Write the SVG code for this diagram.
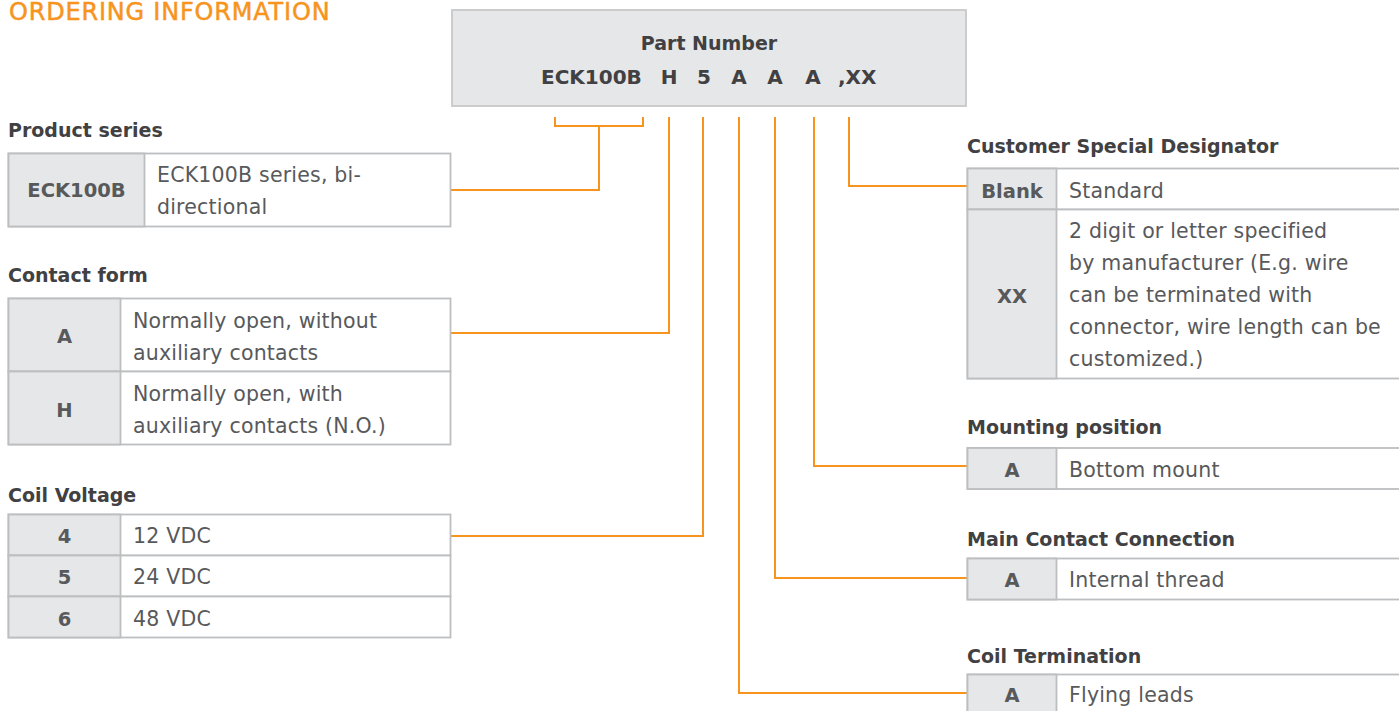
<svg xmlns="http://www.w3.org/2000/svg" width="1399" height="711" viewBox="0 0 1399 711">
<style>
.title{font-family:"DejaVu Sans",sans-serif;font-size:24px;fill:#F7941D;stroke:#F7941D;stroke-width:0.5;letter-spacing:0.8px}
.head{font-family:"DejaVu Sans",sans-serif;font-size:19px;font-weight:bold;fill:#414042}
.key{font-family:"DejaVu Sans",sans-serif;font-size:19.5px;font-weight:bold;fill:#58595B;text-anchor:middle}
.pn{font-family:"DejaVu Sans",sans-serif;font-size:19px;font-weight:bold;fill:#414042}
.pn2{font-family:"DejaVu Sans",sans-serif;font-size:20px;font-weight:bold;fill:#414042}
.txt{font-family:"DejaVu Sans",sans-serif;font-size:20.5px;fill:#58595B;letter-spacing:0.2px}
.kc{fill:#E6E7E8;stroke:#BCBEC0;stroke-width:1.8}
.dc{fill:#FFFFFF;stroke:#BCBEC0;stroke-width:1.8}
.conn{fill:none;stroke:#F7941D;stroke-width:2}
</style>
<rect width="1399" height="711" fill="#FFFFFF"/>
<text class="title" x="9" y="20">ORDERING INFORMATION</text>

<g id="part-number">
<rect x="452" y="10" width="514" height="96" fill="#E6E7E8" stroke="#C8C8C8" stroke-width="1.8"/>
<text class="pn" x="709" y="50" text-anchor="middle">Part Number</text>
<text class="pn2" x="541" y="84">ECK100B</text>
<text class="pn2" x="669" y="84" text-anchor="middle">H</text>
<text class="pn2" x="704" y="84" text-anchor="middle">5</text>
<text class="pn2" x="739" y="84" text-anchor="middle">A</text>
<text class="pn2" x="775" y="84" text-anchor="middle">A</text>
<text class="pn2" x="813" y="84" text-anchor="middle">A</text>
<text class="pn2" x="838" y="84">,XX</text>
</g>

<g id="connectors">
<polyline class="conn" points="555,117 555,126 643,126 643,117"/>
<polyline class="conn" points="599,126 599,190 451,190"/>
<polyline class="conn" points="669,117 669,333 451,333"/>
<polyline class="conn" points="703,117 703,536 451,536"/>
<polyline class="conn" points="739,117 739,693 967,693"/>
<polyline class="conn" points="775,117 775,578 967,578"/>
<polyline class="conn" points="814,117 814,466 967,466"/>
<polyline class="conn" points="849,117 849,186 967,186"/>
</g>

<g id="product-series">
<text class="head" x="8" y="137">Product series</text>
<rect class="dc" x="8.5" y="153.5" width="442" height="73"/>
<rect class="kc" x="8.5" y="153.5" width="136" height="73"/>
<text class="key" x="76.5" y="197">ECK100B</text>
<text class="txt" x="157" y="182">ECK100B series, bi-</text>
<text class="txt" x="157" y="214">directional</text>
</g>

<g id="contact-form">
<text class="head" x="8" y="282">Contact form</text>
<rect class="dc" x="8.5" y="298.5" width="442" height="73"/>
<rect class="kc" x="8.5" y="298.5" width="112" height="73"/>
<rect class="dc" x="8.5" y="371.5" width="442" height="73"/>
<rect class="kc" x="8.5" y="371.5" width="112" height="73"/>
<text class="key" x="64.5" y="343">A</text>
<text class="txt" x="133" y="328">Normally open, without</text>
<text class="txt" x="133" y="360">auxiliary contacts</text>
<text class="key" x="64.5" y="416.5">H</text>
<text class="txt" x="133" y="401">Normally open, with</text>
<text class="txt" x="133" y="433">auxiliary contacts (N.O.)</text>
</g>

<g id="coil-voltage">
<text class="head" x="8" y="501.5">Coil Voltage</text>
<rect class="dc" x="8.5" y="514.5" width="442" height="41"/>
<rect class="kc" x="8.5" y="514.5" width="112" height="41"/>
<rect class="dc" x="8.5" y="555.5" width="442" height="41"/>
<rect class="kc" x="8.5" y="555.5" width="112" height="41"/>
<rect class="dc" x="8.5" y="596.5" width="442" height="41"/>
<rect class="kc" x="8.5" y="596.5" width="112" height="41"/>
<text class="key" x="64.5" y="543">4</text>
<text class="txt" x="133" y="543">12 VDC</text>
<text class="key" x="64.5" y="584">5</text>
<text class="txt" x="133" y="584">24 VDC</text>
<text class="key" x="64.5" y="625.5">6</text>
<text class="txt" x="133" y="625.5">48 VDC</text>
</g>

<g id="customer-special-designator">
<text class="head" x="967" y="152.5">Customer Special Designator</text>
<rect class="dc" x="967.5" y="168.5" width="440" height="41"/>
<rect class="kc" x="967.5" y="168.5" width="89" height="41"/>
<rect class="dc" x="967.5" y="209.5" width="440" height="169"/>
<rect class="kc" x="967.5" y="209.5" width="89" height="169"/>
<text class="key" x="1012" y="197.5">Blank</text>
<text class="txt" x="1069" y="197.5">Standard</text>
<text class="key" x="1012" y="302.5">XX</text>
<text class="txt" x="1069" y="238">2 digit or letter specified</text>
<text class="txt" x="1069" y="270">by manufacturer (E.g. wire</text>
<text class="txt" x="1069" y="302">can be terminated with</text>
<text class="txt" x="1069" y="334">connector, wire length can be</text>
<text class="txt" x="1069" y="366">customized.)</text>
</g>

<g id="mounting-position">
<text class="head" x="967" y="434">Mounting position</text>
<rect class="dc" x="967.5" y="448" width="440" height="41"/>
<rect class="kc" x="967.5" y="448" width="89" height="41"/>
<text class="key" x="1012" y="476.5">A</text>
<text class="txt" x="1069" y="476.5">Bottom mount</text>
</g>

<g id="main-contact-connection">
<text class="head" x="967" y="545.5">Main Contact Connection</text>
<rect class="dc" x="967.5" y="558.5" width="440" height="41"/>
<rect class="kc" x="967.5" y="558.5" width="89" height="41"/>
<text class="key" x="1012" y="586.5">A</text>
<text class="txt" x="1069" y="586.5">Internal thread</text>
</g>

<g id="coil-termination">
<text class="head" x="967" y="662.5">Coil Termination</text>
<rect class="dc" x="967.5" y="674.5" width="440" height="41"/>
<rect class="kc" x="967.5" y="674.5" width="89" height="41"/>
<text class="key" x="1012" y="702">A</text>
<text class="txt" x="1069" y="702">Flying leads</text>
</g>
</svg>
